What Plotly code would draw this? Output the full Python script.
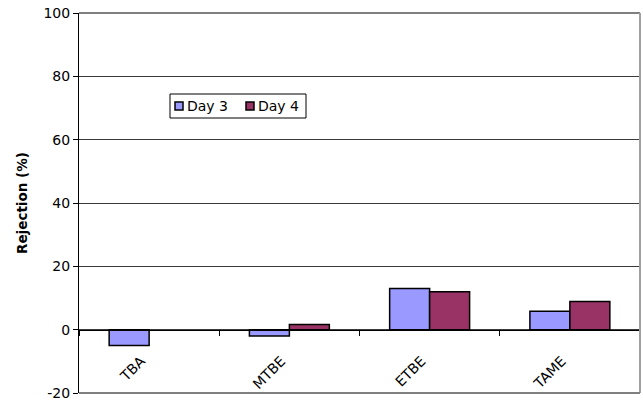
import plotly.graph_objects as go

# Rejection of oxygenates by day
compounds = ["TBA", "MTBE", "ETBE", "TAME"]
day3 = [-5.0, -2.0, 13.0, 5.8]
day4 = [None, 1.6, 12.0, 8.9]
y_ticks = [-20, 0, 20, 40, 60, 80, 100]
series_names = ["Day 3", "Day 4"]
series_colors = ["#9999FF", "#993366"]

FONT = "DejaVu Sans, Arial, sans-serif"
Y_MIN, Y_MAX = -20, 100

# plot-area geometry in pixels
W, H = 643, 401
L, R, T, B = 79, 3, 13, 8
PW, PH = W - L - R, H - T - B


def px_x(x):
    return (x - L) / PW


def px_y(y):
    return (H - B - y) / PH


fig = go.Figure()
for name, vals, col in zip(series_names, [day3, day4], series_colors):
    fig.add_trace(go.Bar(
        name=name, x=compounds, y=vals, showlegend=False,
        marker=dict(color=col, line=dict(color="black", width=1.5)),
    ))

# invisible trace carrying the rotated category labels on a lower axis
fig.add_trace(go.Bar(x=compounds, y=[None] * 4, xaxis="x2", showlegend=False,
                     hoverinfo="skip"))

zero_frac = (0 - Y_MIN) / (Y_MAX - Y_MIN)
label_frac = (-6.2 - Y_MIN) / (Y_MAX - Y_MIN)

shapes = [
    # plot-area frame on top, right and bottom
    dict(type="line", xref="paper", yref="paper", x0=0, x1=1, y0=1, y1=1,
         line=dict(color="#808080", width=2)),
    dict(type="line", xref="paper", yref="paper", x0=1, x1=1, y0=0, y1=1,
         line=dict(color="#A0A0A0", width=2)),
    dict(type="line", xref="paper", yref="paper", x0=0, x1=1, y0=0, y1=0,
         line=dict(color="#808080", width=2)),
    # legend box
    dict(type="rect", xref="paper", yref="paper",
         x0=px_x(170), x1=px_x(306), y0=px_y(118), y1=px_y(94),
         line=dict(color="black", width=1), fillcolor="white"),
]
annotations = []
key_x = [175, 246]
text_x = [185, 256]
for name, col, kx, tx in zip(series_names, series_colors, key_x, text_x):
    shapes.append(dict(type="rect", xref="paper", yref="paper",
                       x0=px_x(kx), x1=px_x(kx + 8), y0=px_y(110), y1=px_y(102),
                       line=dict(color="black", width=1.5), fillcolor=col))
    annotations.append(dict(text=name, xref="paper", yref="paper",
                            x=px_x(tx), y=px_y(106), xanchor="left",
                            yanchor="middle", showarrow=False,
                            font=dict(family=FONT, size=14, color="black")))

fig.update_layout(
    width=W, height=H,
    margin=dict(l=L, r=R, t=T, b=B, autoexpand=False),
    paper_bgcolor="white", plot_bgcolor="white",
    barmode="group", bargap=0.43, bargroupgap=0,
    font=dict(family=FONT, size=14, color="black"),
    showlegend=False,
    xaxis=dict(
        type="category", anchor="free", position=zero_frac,
        showline=True, linecolor="black", linewidth=1,
        ticks="outside", ticklen=5, tickcolor="black", tickwidth=1,
        tickson="boundaries", showticklabels=False, showgrid=False,
        zeroline=False, automargin=False,
    ),
    xaxis2=dict(
        type="category", overlaying="x", anchor="free", position=label_frac,
        side="bottom", showline=False, ticks="", showgrid=False,
        tickangle=-45, ticklabelshift=-8, automargin=False,
        tickfont=dict(family=FONT, size=14),
        matches="x",
    ),
    yaxis=dict(
        range=[Y_MIN, Y_MAX], tickvals=y_ticks,
        ticktext=[str(v) for v in y_ticks],
        showline=True, linecolor="black", linewidth=1,
        ticks="outside", ticklen=5, tickcolor="black",
        showgrid=True, gridcolor="#3a3a3a", gridwidth=1,
        zeroline=False, ticklabeloverflow="allow", automargin=False,
        tickfont=dict(family=FONT, size=14),
        title=dict(text="<b>Rejection (%)</b>", standoff=12,
                   font=dict(family=FONT, size=13.5)),
    ),
    shapes=shapes,
    annotations=annotations,
)

fig.write_html("out.html")
